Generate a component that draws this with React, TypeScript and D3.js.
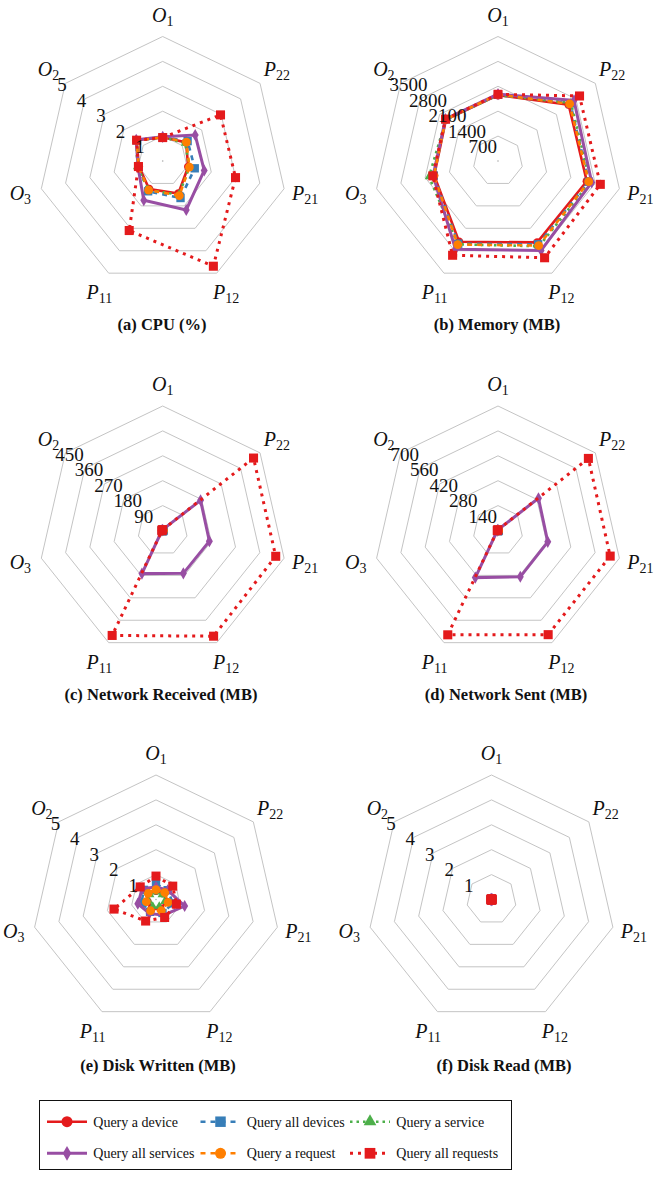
import React from "react";
import * as d3 from "d3";

const AXIS_MAIN = ["O", "P", "P", "P", "P", "O", "O"];
const AXIS_SUB = ["1", "22", "21", "12", "11", "3", "2"];

const SERIES = [
  "Query a device",
  "Query all devices",
  "Query a service",
  "Query all services",
  "Query a request",
  "Query all requests",
];
const COLORS = ["#e41a1c", "#377eb8", "#4daf4a", "#984ea3", "#ff7f00", "#e41a1c"];
const DASHES = [null, "5 5", "2.5 4", null, "5 5", "3 5"];
const WIDTHS = [2.6, 2.6, 2.6, 3, 2.6, 3];

// order of axes: O1, P22, P21, P12, P11, O3, O2
const cpuValues = [
  [0.95, 1.2, 1.05, 1.45, 1.25, 0.98, 1.35],
  [0.95, 1.28, 1.32, 1.65, 1.35, 1.0, 1.33],
  [0.96, 1.15, 1.1, 1.5, 1.3, 1.05, 1.35],
  [0.97, 1.67, 1.71, 2.18, 1.75, 1.02, 1.36],
  [0.95, 1.22, 1.1, 1.54, 1.3, 1.0, 1.33],
  [0.94, 2.97, 3.0, 4.69, 3.1, 1.0, 1.34],
];
const memoryValues = [
  [1850, 2540, 2560, 2540, 2520, 1840, 1870],
  [1860, 2600, 2620, 2600, 2580, 1850, 1880],
  [1850, 2620, 2660, 2660, 2600, 1990, 1870],
  [1880, 2733, 2702, 2791, 2752, 1870, 1890],
  [1870, 2575, 2615, 2637, 2607, 1850, 1880],
  [1875, 2932, 2950, 3019, 2941, 1880, 1887],
];
const netRecvValues = [
  [2, 2, 2, 2, 2, 2, 2],
  [3, 3, 3, 3, 3, 3, 3],
  [2, 2, 2, 2, 2, 2, 2],
  [3, 175, 173, 172, 173, 3, 3],
  [2, 2, 2, 2, 2, 2, 2],
  [3, 420, 419, 424, 421, 3, 3],
];
const netSentValues = [
  [3, 3, 3, 3, 3, 3, 3],
  [4, 4, 4, 4, 4, 4, 4],
  [3, 3, 3, 3, 3, 3, 3],
  [4, 291, 287, 289, 294, 4, 4],
  [3, 3, 3, 3, 3, 3, 3],
  [4, 650, 647, 650, 651, 4, 4],
];
const diskWrittenValues = [
  [0.35, 0.4, 0.45, 0.4, 0.4, 0.35, 0.4],
  [0.62, 0.6, 0.7, 0.6, 0.55, 0.6, 0.62],
  [0.3, 0.3, 0.35, 0.3, 0.3, 0.3, 0.3],
  [0.5, 0.6, 1.18, 0.7, 0.62, 0.75, 0.7],
  [0.4, 0.45, 0.5, 0.5, 0.5, 0.4, 0.4],
  [0.94, 0.86, 0.84, 0.8, 0.96, 1.73, 0.81],
];
const diskReadValues = [
  [0.03, 0.03, 0.03, 0.03, 0.03, 0.03, 0.03],
  [0.03, 0.03, 0.03, 0.03, 0.03, 0.03, 0.03],
  [0.03, 0.03, 0.03, 0.03, 0.03, 0.03, 0.03],
  [0.03, 0.03, 0.03, 0.03, 0.03, 0.03, 0.03],
  [0.03, 0.03, 0.03, 0.03, 0.03, 0.03, 0.03],
  [0.03, 0.03, 0.03, 0.03, 0.03, 0.03, 0.03],
];

const cpuTicks = [1, 2, 3, 4, 5];
const memoryTicks = [700, 1400, 2100, 2800, 3500];
const netRecvTicks = [90, 180, 270, 360, 450];
const netSentTicks = [140, 280, 420, 560, 700];
const diskTicks = [1, 2, 3, 4, 5];

const TITLES = [
  "(a) CPU (%)",
  "(b) Memory (MB)",
  "(c) Network Received (MB)",
  "(d) Network Sent (MB)",
  "(e) Disk Written (MB)",
  "(f) Disk Read (MB)",
];

const PANELS = [
  { title: TITLES[0], data: cpuValues, ticks: cpuTicks, cx: 162.7, cy: 161, tx: 162, ty: 330 },
  { title: TITLES[1], data: memoryValues, ticks: memoryTicks, cx: 498, cy: 161, tx: 497, ty: 330 },
  { title: TITLES[2], data: netRecvValues, ticks: netRecvTicks, cx: 162.7, cy: 530.5, tx: 161, ty: 700 },
  { title: TITLES[3], data: netSentValues, ticks: netSentTicks, cx: 498, cy: 530.5, tx: 506, ty: 700 },
  { title: TITLES[4], data: diskWrittenValues, ticks: diskTicks, cx: 156, cy: 899.5, tx: 158, ty: 1071 },
  { title: TITLES[5], data: diskReadValues, ticks: diskTicks, cx: 491.5, cy: 899.5, tx: 504, ty: 1071 },
];

const R = 124.5;
const N = 7;
const angle = (i: number) => (i * 2 * Math.PI) / N;
const SERIF = "Liberation Serif, DejaVu Serif, serif";

const symbolTypes = [
  d3.symbolCircle,
  d3.symbolSquare,
  d3.symbolTriangle,
  d3.symbolDiamond,
  d3.symbolCircle,
  d3.symbolSquare,
];
const chartSizes = [55, 70, 32, 42, 60, 82];
const legendSizes = [95, 110, 70, 62, 95, 115];

function Panel({ p }: { p: any }) {
  const max = p.ticks[p.ticks.length - 1];
  const r = d3.scaleLinear().domain([0, max]).range([0, R]);
  const line = d3
    .lineRadial<number>()
    .angle((_, i) => angle(i))
    .radius((d) => r(d))
    .curve(d3.curveLinearClosed);
  const a6 = angle(6);
  return (
    <g>
      <g transform={`translate(${p.cx},${p.cy})`}>
        {p.ticks.map((t: number) => (
          <path key={t} d={line(d3.range(N).map(() => t)) || ""} fill="none" stroke="#c4c4c4" strokeWidth={1} />
        ))}
        <circle r={0.8} fill="#aaa" />
        {p.data.map((vals: number[], si: number) => (
          <g key={si}>
            <path
              d={line(vals) || ""}
              fill="none"
              stroke={COLORS[si]}
              strokeWidth={WIDTHS[si]}
              strokeDasharray={DASHES[si] || undefined}
            />
            {vals.map((v, i) => {
              const x = r(v) * Math.sin(angle(i));
              const y = -r(v) * Math.cos(angle(i));
              return (
                <path
                  key={i}
                  transform={`translate(${x},${y})`}
                  d={d3.symbol(symbolTypes[si], chartSizes[si])() || ""}
                  fill={COLORS[si]}
                />
              );
            })}
          </g>
        ))}
        {p.ticks.map((t: number) => {
          const vx = r(t) * Math.sin(a6);
          const vy = -r(t) * Math.cos(a6);
          const w = String(t).length * 10;
          return (
            <text
              key={"t" + t}
              x={vx - 7 + 0.37 * w}
              y={vy + 1.5}
              textAnchor="middle"
              dominantBaseline="central"
              fontFamily={SERIF}
              fontSize={19}
              fill="#111"
            >
              {t}
            </text>
          );
        })}
        {AXIS_MAIN.map((m, i) => {
          const lr = 146;
          const x = lr * Math.sin(angle(i));
          const y = -lr * Math.cos(angle(i));
          return (
            <text key={"a" + i} x={x} y={y + 6.5} textAnchor="middle" fontFamily={SERIF} fontSize={20} fill="#111">
              <tspan fontStyle="italic">{m}</tspan>
              <tspan fontSize={14} dy={4}>
                {AXIS_SUB[i]}
              </tspan>
            </text>
          );
        })}
      </g>
      <text x={p.tx} y={p.ty} textAnchor="middle" fontFamily={SERIF} fontWeight="bold" fontSize={16.5} fill="#111">
        {p.title}
      </text>
    </g>
  );
}

const LEGEND_COLS = [47, 200.5, 350];
const LEGEND_ROWS = [1121.7, 1153.3];
const LEGEND_LEN = 40;

function Legend() {
  return (
    <g>
      <rect x={39.5} y={1100.5} width={472} height={69} fill="white" stroke="#111" strokeWidth={1} />
      {SERIES.map((s, i) => {
        const col = i % 3;
        const row = Math.floor(i / 3);
        const x0 = LEGEND_COLS[col];
        const y = LEGEND_ROWS[row];
        return (
          <g key={s}>
            <line
              x1={x0}
              x2={x0 + LEGEND_LEN}
              y1={y}
              y2={y}
              stroke={COLORS[i]}
              strokeWidth={WIDTHS[i]}
              strokeDasharray={DASHES[i] || undefined}
            />
            <path
              transform={`translate(${x0 + LEGEND_LEN / 2},${y})`}
              d={d3.symbol(symbolTypes[i], legendSizes[i])() || ""}
              fill={COLORS[i]}
            />
            <text x={x0 + LEGEND_LEN + 6.3} y={y + 5} fontFamily={SERIF} fontSize={14} fill="#111">
              {s}
            </text>
          </g>
        );
      })}
    </g>
  );
}

export default function App() {
  return (
    <svg
      width={654}
      height={1178}
      viewBox="0 0 654 1178"
      style={{ position: "absolute", left: 0, top: 0, background: "white" }}
    >
      <rect width={654} height={1178} fill="white" />
      {PANELS.map((p) => (
        <Panel key={p.title} p={p} />
      ))}
      <Legend />
    </svg>
  );
}
